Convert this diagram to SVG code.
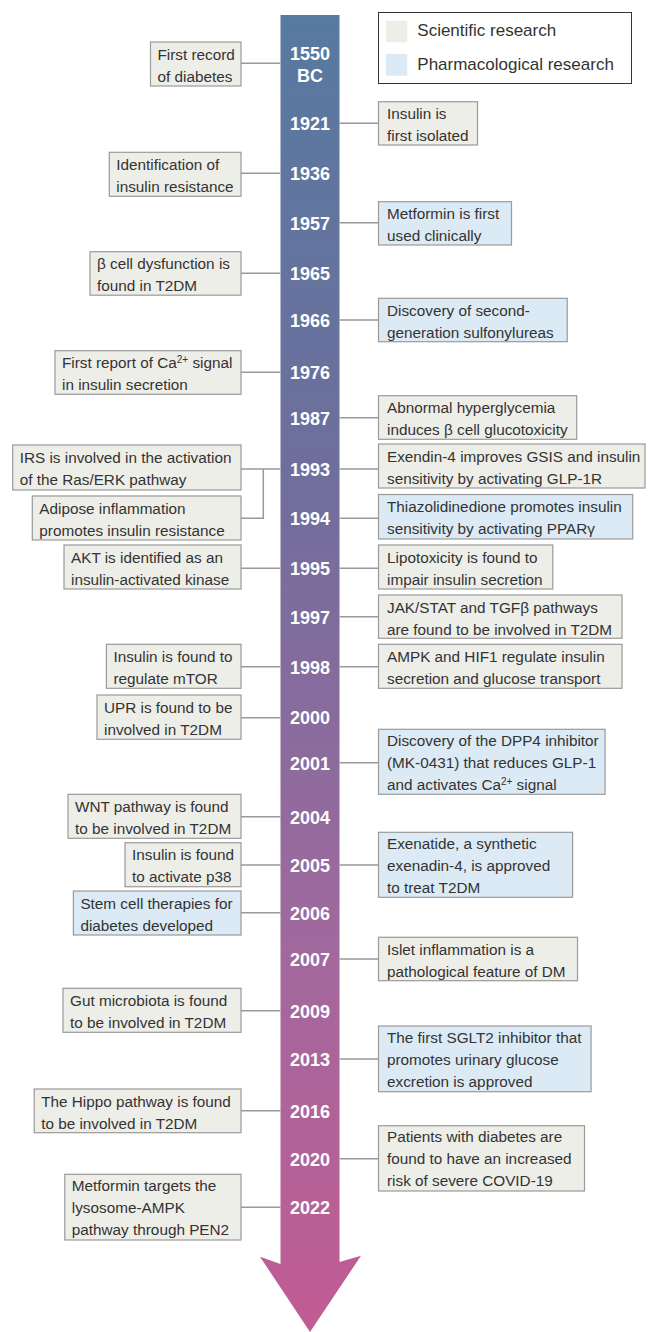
<svg xmlns="http://www.w3.org/2000/svg" width="648" height="1332" viewBox="0 0 648 1332">
<style>
.t{font-family:"Liberation Sans",Arial,sans-serif;font-size:15.3px;fill:#333}
.sup{font-size:10px}
.yr{font-family:"Liberation Sans",Arial,sans-serif;font-size:18px;font-weight:bold;fill:#fff;text-anchor:middle}
.lg{font-family:"Liberation Sans",Arial,sans-serif;font-size:17px;fill:#333}
.sci{fill:#EEEEE9;stroke:#9A9A9A;stroke-width:1.2}
.ph{fill:#DCEAF5;stroke:#9A9A9A;stroke-width:1.2}
.c{stroke:#999;stroke-width:1.5;fill:none}
</style>
<defs>
<linearGradient id="grad" gradientUnits="userSpaceOnUse" x1="0" y1="15" x2="0" y2="1332">
<stop offset="0" stop-color="#577AA0"/>
<stop offset="0.35" stop-color="#6F6E9C"/>
<stop offset="0.7" stop-color="#A0699E"/>
<stop offset="1" stop-color="#C25B94"/>
</linearGradient>
</defs>
<rect width="648" height="1332" fill="#fff"/>

<g id="timeline">
<path d="M280.5 15 H339.5 V1262 L361 1255.7 L310 1332 L260 1256.7 L280.5 1264 Z" fill="url(#grad)"/>
</g>

<g id="legend">
<rect x="378.5" y="12.5" width="253" height="71" fill="#fff" stroke="#333" stroke-width="1"/>
<rect x="386" y="20.7" width="21.3" height="21.6" fill="#EEEEE9"/>
<rect x="386" y="54" width="21.3" height="21.7" fill="#DCEAF5"/>
<text class="lg" x="417.3" y="36.3">Scientific research</text>
<text class="lg" x="417.3" y="69.7">Pharmacological research</text>
</g>

<g id="connectors">
<path class="c" d="M241 63.3 H280.5"/>
<path class="c" d="M339.5 123.3 H378.5"/>
<path class="c" d="M241 173.3 H280.5"/>
<path class="c" d="M339.5 222.7 H378.5"/>
<path class="c" d="M241 273.3 H280.5"/>
<path class="c" d="M339.5 320 H378.5"/>
<path class="c" d="M241 372.3 H280.5"/>
<path class="c" d="M339.5 417.7 H378.5"/>
<path class="c" d="M241 469 H280.5"/>
<path class="c" d="M241 518.3 H263.3 V469"/>
<path class="c" d="M339.5 469 H378.5"/>
<path class="c" d="M339.5 518.3 H378.5"/>
<path class="c" d="M241 568.3 H280.5"/>
<path class="c" d="M339.5 568.3 H378.5"/>
<path class="c" d="M339.5 616.7 H378.5"/>
<path class="c" d="M241 666.7 H280.5"/>
<path class="c" d="M339.5 666.7 H378.5"/>
<path class="c" d="M241 717.7 H280.5"/>
<path class="c" d="M339.5 762.7 H378.5"/>
<path class="c" d="M241 816.7 H280.5"/>
<path class="c" d="M241 865 H280.5"/>
<path class="c" d="M339.5 865 H378.5"/>
<path class="c" d="M241 912.7 H280.5"/>
<path class="c" d="M339.5 959 H378.5"/>
<path class="c" d="M241 1010.7 H280.5"/>
<path class="c" d="M339.5 1059 H378.5"/>
<path class="c" d="M241 1110.7 H280.5"/>
<path class="c" d="M339.5 1158.7 H378.5"/>
<path class="c" d="M241 1207.3 H280.5"/>
</g>

<g id="years">
<text class="yr" x="310" y="60">1550</text>
<text class="yr" x="310" y="81.7">BC</text>
<text class="yr" x="310" y="130">1921</text>
<text class="yr" x="310" y="180">1936</text>
<text class="yr" x="310" y="229.5">1957</text>
<text class="yr" x="310" y="280">1965</text>
<text class="yr" x="310" y="327">1966</text>
<text class="yr" x="310" y="379">1976</text>
<text class="yr" x="310" y="424.5">1987</text>
<text class="yr" x="310" y="475.5">1993</text>
<text class="yr" x="310" y="525">1994</text>
<text class="yr" x="310" y="575">1995</text>
<text class="yr" x="310" y="623.5">1997</text>
<text class="yr" x="310" y="673.5">1998</text>
<text class="yr" x="310" y="724">2000</text>
<text class="yr" x="310" y="769.5">2001</text>
<text class="yr" x="310" y="823.5">2004</text>
<text class="yr" x="310" y="871.5">2005</text>
<text class="yr" x="310" y="919.5">2006</text>
<text class="yr" x="310" y="966">2007</text>
<text class="yr" x="310" y="1017.5">2009</text>
<text class="yr" x="310" y="1066">2013</text>
<text class="yr" x="310" y="1117.5">2016</text>
<text class="yr" x="310" y="1165.5">2020</text>
<text class="yr" x="310" y="1214">2022</text>
</g>

<g id="n1550">
<rect class="sci" x="150.5" y="42" width="90.5" height="44"/>
<text class="t"><tspan x="157.5" y="59.5">First record</tspan><tspan x="157.5" y="81.5">of diabetes</tspan></text>
</g>
<g id="n1921">
<rect class="sci" x="378.5" y="101.7" width="99" height="43.3"/>
<text class="t"><tspan x="387" y="119.2">Insulin is</tspan><tspan x="387" y="141.2">first isolated</tspan></text>
</g>
<g id="n1936">
<rect class="sci" x="109.3" y="152.3" width="131.7" height="44"/>
<text class="t"><tspan x="116.3" y="169.8">Identification of</tspan><tspan x="116.3" y="191.8">insulin resistance</tspan></text>
</g>
<g id="n1957">
<rect class="ph" x="378.5" y="201.7" width="133" height="43.3"/>
<text class="t"><tspan x="387" y="219.2">Metformin is first</tspan><tspan x="387" y="241.2">used clinically</tspan></text>
</g>
<g id="n1965">
<rect class="sci" x="90" y="251.7" width="151" height="43.5"/>
<text class="t"><tspan x="97" y="269.2">β cell dysfunction is</tspan><tspan x="97" y="291.2">found in T2DM</tspan></text>
</g>
<g id="n1966">
<rect class="ph" x="378.5" y="298.3" width="188.7" height="43.4"/>
<text class="t"><tspan x="387" y="315.8">Discovery of second-</tspan><tspan x="387" y="337.8">generation sulfonylureas</tspan></text>
</g>
<g id="n1976">
<rect class="sci" x="55" y="350.7" width="186" height="43.6"/>
<text class="t"><tspan x="62" y="368.2">First report of Ca</tspan><tspan class="sup" dy="-5.5">2+</tspan><tspan dy="5.5"> signal</tspan><tspan x="62" y="390.2">in insulin secretion</tspan></text>
</g>
<g id="n1987">
<rect class="sci" x="378.5" y="395.7" width="198.2" height="43.6"/>
<text class="t"><tspan x="387" y="413.2">Abnormal hyperglycemia</tspan><tspan x="387" y="435.2">induces β cell glucotoxicity</tspan></text>
</g>
<g id="n1993a">
<rect class="sci" x="12.7" y="445" width="228.3" height="45"/>
<text class="t"><tspan x="19.7" y="462.5">IRS is involved in the activation</tspan><tspan x="19.7" y="484.5">of the Ras/ERK pathway</tspan></text>
</g>
<g id="n1993b">
<rect class="sci" x="378.5" y="444" width="266.5" height="44"/>
<text class="t"><tspan x="387" y="461.5">Exendin-4 improves GSIS and insulin</tspan><tspan x="387" y="483.5">sensitivity by activating GLP-1R</tspan></text>
</g>
<g id="n1994a">
<rect class="sci" x="32.3" y="496" width="208.7" height="44"/>
<text class="t"><tspan x="39.3" y="513.5">Adipose inflammation</tspan><tspan x="39.3" y="535.5">promotes insulin resistance</tspan></text>
</g>
<g id="n1994b">
<rect class="ph" x="378.5" y="494.5" width="254.2" height="44.5"/>
<text class="t"><tspan x="387" y="512">Thiazolidinedione promotes insulin</tspan><tspan x="387" y="534">sensitivity by activating PPARγ</tspan></text>
</g>
<g id="n1995a">
<rect class="sci" x="64" y="545" width="177" height="44"/>
<text class="t"><tspan x="71" y="562.5">AKT is identified as an</tspan><tspan x="71" y="584.5">insulin-activated kinase</tspan></text>
</g>
<g id="n1995b">
<rect class="sci" x="378.5" y="545" width="174.3" height="44"/>
<text class="t"><tspan x="387" y="562.5">Lipotoxicity is found to</tspan><tspan x="387" y="584.5">impair insulin secretion</tspan></text>
</g>
<g id="n1997">
<rect class="sci" x="378.5" y="595" width="243.5" height="43.3"/>
<text class="t"><tspan x="387" y="612.5">JAK/STAT and TGFβ pathways</tspan><tspan x="387" y="634.5">are found to be involved in T2DM</tspan></text>
</g>
<g id="n1998a">
<rect class="sci" x="106.4" y="644.3" width="134.6" height="44"/>
<text class="t"><tspan x="113.4" y="661.8">Insulin is found to</tspan><tspan x="113.4" y="683.8">regulate mTOR</tspan></text>
</g>
<g id="n1998b">
<rect class="sci" x="378.5" y="644.3" width="243.5" height="44"/>
<text class="t"><tspan x="387" y="661.8">AMPK and HIF1 regulate insulin</tspan><tspan x="387" y="683.8">secretion and glucose transport</tspan></text>
</g>
<g id="n2000">
<rect class="sci" x="97" y="695" width="144" height="44.3"/>
<text class="t"><tspan x="104" y="712.5">UPR is found to be</tspan><tspan x="104" y="734.5">involved in T2DM</tspan></text>
</g>
<g id="n2001">
<rect class="ph" x="378.5" y="729.3" width="226.6" height="65"/>
<text class="t"><tspan x="387" y="746">Discovery of the DPP4 inhibitor</tspan><tspan x="387" y="768">(MK-0431) that reduces GLP-1</tspan><tspan x="387" y="790">and activates Ca</tspan><tspan class="sup" dy="-5.5">2+</tspan><tspan dy="5.5"> signal</tspan></text>
</g>
<g id="n2004">
<rect class="sci" x="68" y="794.3" width="173" height="44"/>
<text class="t"><tspan x="75" y="811.8">WNT pathway is found</tspan><tspan x="75" y="833.8">to be involved in T2DM</tspan></text>
</g>
<g id="n2005a">
<rect class="sci" x="125" y="842.7" width="116" height="44"/>
<text class="t"><tspan x="132" y="860.2">Insulin is found</tspan><tspan x="132" y="882.2">to activate p38</tspan></text>
</g>
<g id="n2005b">
<rect class="ph" x="378.5" y="832.3" width="194.1" height="65"/>
<text class="t"><tspan x="387" y="849">Exenatide, a synthetic</tspan><tspan x="387" y="871">exenadin-4, is approved</tspan><tspan x="387" y="893">to treat T2DM</tspan></text>
</g>
<g id="n2006">
<rect class="ph" x="73.4" y="891" width="167.6" height="44"/>
<text class="t"><tspan x="80.4" y="908.5">Stem cell therapies for</tspan><tspan x="80.4" y="930.5">diabetes developed</tspan></text>
</g>
<g id="n2007">
<rect class="sci" x="378.5" y="937.3" width="199" height="43.4"/>
<text class="t"><tspan x="387" y="954.8">Islet inflammation is a</tspan><tspan x="387" y="976.8">pathological feature of DM</tspan></text>
</g>
<g id="n2009">
<rect class="sci" x="63" y="988.3" width="178" height="44"/>
<text class="t"><tspan x="70" y="1005.8">Gut microbiota is found</tspan><tspan x="70" y="1027.8">to be involved in T2DM</tspan></text>
</g>
<g id="n2013">
<rect class="ph" x="378.5" y="1026" width="212.6" height="65.7"/>
<text class="t"><tspan x="387" y="1042.7">The first SGLT2 inhibitor that</tspan><tspan x="387" y="1064.7">promotes urinary glucose</tspan><tspan x="387" y="1086.7">excretion is approved</tspan></text>
</g>
<g id="n2016">
<rect class="sci" x="34.2" y="1089" width="206.8" height="43.7"/>
<text class="t"><tspan x="41.2" y="1106.5">The Hippo pathway is found</tspan><tspan x="41.2" y="1128.5">to be involved in T2DM</tspan></text>
</g>
<g id="n2020">
<rect class="sci" x="378.5" y="1125.7" width="206" height="65.3"/>
<text class="t"><tspan x="387" y="1142.4">Patients with diabetes are</tspan><tspan x="387" y="1164.4">found to have an increased</tspan><tspan x="387" y="1186.4">risk of severe COVID-19</tspan></text>
</g>
<g id="n2022">
<rect class="sci" x="64.8" y="1174.3" width="176.2" height="65.7"/>
<text class="t"><tspan x="71.8" y="1191">Metformin targets the</tspan><tspan x="71.8" y="1213">lysosome-AMPK</tspan><tspan x="71.8" y="1235">pathway through PEN2</tspan></text>
</g>
</svg>
